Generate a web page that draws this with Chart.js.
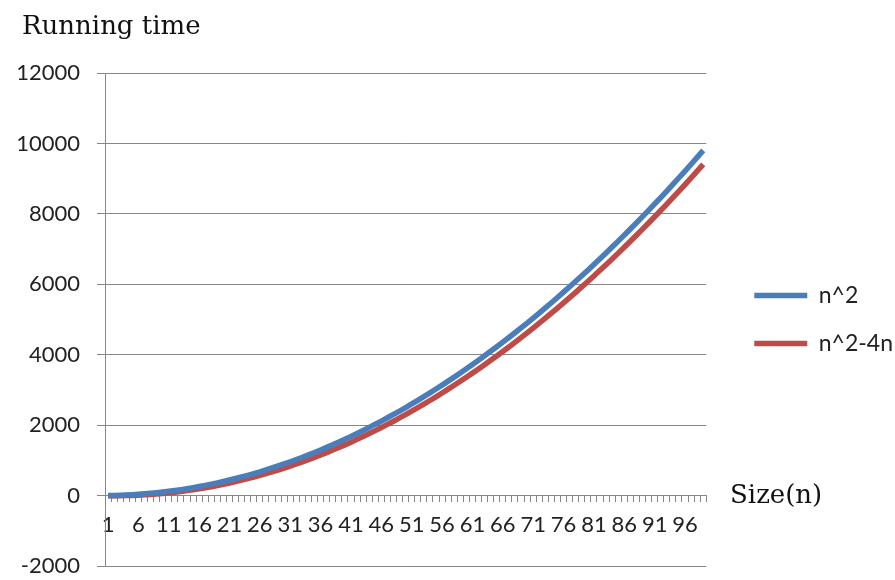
<!DOCTYPE html>
<html>
<head>
<meta charset="utf-8">
<script src="https://cdn.jsdelivr.net/npm/chart.js@4.4.1/dist/chart.umd.min.js"></script>
<style>
  html, body { margin: 0; padding: 0; background: #ffffff; }
  #wrap { position: relative; width: 895px; height: 580px; }
</style>
</head>
<body>
<div id="wrap"><canvas id="c" width="895" height="580"></canvas></div>
<script>
const sizes = [1,2,3,4,5,6,7,8,9,10,11,12,13,14,15,16,17,18,19,20,21,22,23,24,25,26,27,28,29,30,31,32,33,34,35,36,37,38,39,40,41,42,43,44,45,46,47,48,49,50,51,52,53,54,55,56,57,58,59,60,61,62,63,64,65,66,67,68,69,70,71,72,73,74,75,76,77,78,79,80,81,82,83,84,85,86,87,88,89,90,91,92,93,94,95,96,97,98,99];

const nSquared = [1,4,9,16,25,36,49,64,81,100,121,144,169,196,225,256,289,324,361,400,441,484,529,576,625,676,729,784,841,900,961,1024,1089,1156,1225,1296,1369,1444,1521,1600,1681,1764,1849,1936,2025,2116,2209,2304,2401,2500,2601,2704,2809,2916,3025,3136,3249,3364,3481,3600,3721,3844,3969,4096,4225,4356,4489,4624,4761,4900,5041,5184,5329,5476,5625,5776,5929,6084,6241,6400,6561,6724,6889,7056,7225,7396,7569,7744,7921,8100,8281,8464,8649,8836,9025,9216,9409,9604,9801];

const nSquaredMinus4n = [-3,-4,-3,0,5,12,21,32,45,60,77,96,117,140,165,192,221,252,285,320,357,396,437,480,525,572,621,672,725,780,837,896,957,1020,1085,1152,1221,1292,1365,1440,1517,1596,1677,1760,1845,1932,2021,2112,2205,2300,2397,2496,2597,2700,2805,2912,3021,3132,3245,3360,3477,3596,3717,3840,3965,4092,4221,4352,4485,4620,4757,4896,5037,5180,5325,5472,5621,5772,5925,6080,6237,6396,6557,6720,6885,7052,7221,7392,7565,7740,7917,8096,8277,8460,8645,8832,9021,9212,9405];

const shownXTicks = ['1','6','11','16','21','26','31','36','41','46','51','56','61','66','71','76','81','86','91','96'];
const yTicks = [-2000, 0, 2000, 4000, 6000, 8000, 10000, 12000];
const seriesNames = ['n^2', 'n^2-4n'];
const yTitle = 'Running time';
const xTitle = 'Size(n)';

const GRID = '#868686';
const TEXT = '#222222';
const SANS = 'Lato, "Open Sans", sans-serif';
const SERIF = '"DejaVu Serif", "Liberation Serif", serif';

const textPlugin = {
  id: 'axisTitles',
  afterDraw(chart) {
    const ctx = chart.ctx;
    ctx.save();
    ctx.fillStyle = '#111111';
    ctx.font = '26px ' + SERIF;
    ctx.textBaseline = 'alphabetic';
    ctx.textAlign = 'left';
    ctx.fillText(yTitle, 22, 34);
    const y0 = chart.scales.y.getPixelForValue(0);
    ctx.textBaseline = 'middle';
    ctx.fillText(xTitle, 730, y0 + 1);
    ctx.restore();
  }
};

new Chart(document.getElementById('c'), {
  type: 'line',
  data: {
    labels: sizes.map(String),
    datasets: [
      {
        label: seriesNames[0],
        data: nSquared,
        borderColor: '#4A7EBB',
        backgroundColor: '#4A7EBB',
        borderWidth: 5.5,
        pointRadius: 0,
        fill: false,
        tension: 0
      },
      {
        label: seriesNames[1],
        data: nSquaredMinus4n,
        borderColor: '#BE4B48',
        backgroundColor: '#BE4B48',
        borderWidth: 5.5,
        pointRadius: 0,
        fill: false,
        tension: 0
      }
    ]
  },
  options: {
    responsive: false,
    animation: false,
    layout: { padding: { top: 73, bottom: 14, left: 0, right: -8 } },
    plugins: {
      legend: {
        position: 'right',
        align: 'center',
        maxWidth: 300,
        labels: {
          usePointStyle: true,
          pointStyle: 'line',
          pointStyleWidth: 53,
          padding: 25,
          color: TEXT,
          font: { family: SANS, size: 23 }
        }
      },
      tooltip: { enabled: false },
      title: { display: false }
    },
    scales: {
      x: {
        type: 'category',
        position: { y: 0 },
        offset: true,
        afterFit(scale) { scale.height = 0; },
        grid: {
          display: true,
          drawOnChartArea: false,
          drawTicks: true,
          tickLength: 6,
          color: GRID,
          offset: true
        },
        border: { display: true, color: GRID, width: 1 },
        ticks: {
          autoSkip: false,
          maxRotation: 0,
          minRotation: 0,
          padding: 10,
          color: TEXT,
          font: { family: SANS, size: 22 },
          callback(value, index) {
            const lab = this.getLabelForValue(value);
            return shownXTicks.includes(lab) ? lab : '';
          }
        }
      },
      y: {
        type: 'linear',
        position: 'left',
        min: yTicks[0],
        max: yTicks[yTicks.length - 1],
        afterFit(scale) {
          scale.width = 105;
          scale.paddingTop = 0;
          scale.paddingBottom = 0;
        },
        afterBuildTicks(scale) { scale.ticks = yTicks.map(v => ({ value: v })); },
        grid: {
          color: GRID,
          lineWidth: 1,
          drawTicks: true,
          tickLength: 8
        },
        border: { display: true, color: GRID, width: 1 },
        ticks: {
          padding: 17,
          color: TEXT,
          font: { family: SANS, size: 22 },
          callback(value) { return String(value); }
        }
      },
      gap: {
        type: 'linear',
        axis: 'y',
        position: 'right',
        display: true,
        afterFit(scale) { scale.width = 23; },
        grid: { display: false, drawTicks: false },
        border: { display: false },
        ticks: { display: false }
      }
    }
  },
  plugins: [textPlugin]
});
</script>
</body>
</html>
